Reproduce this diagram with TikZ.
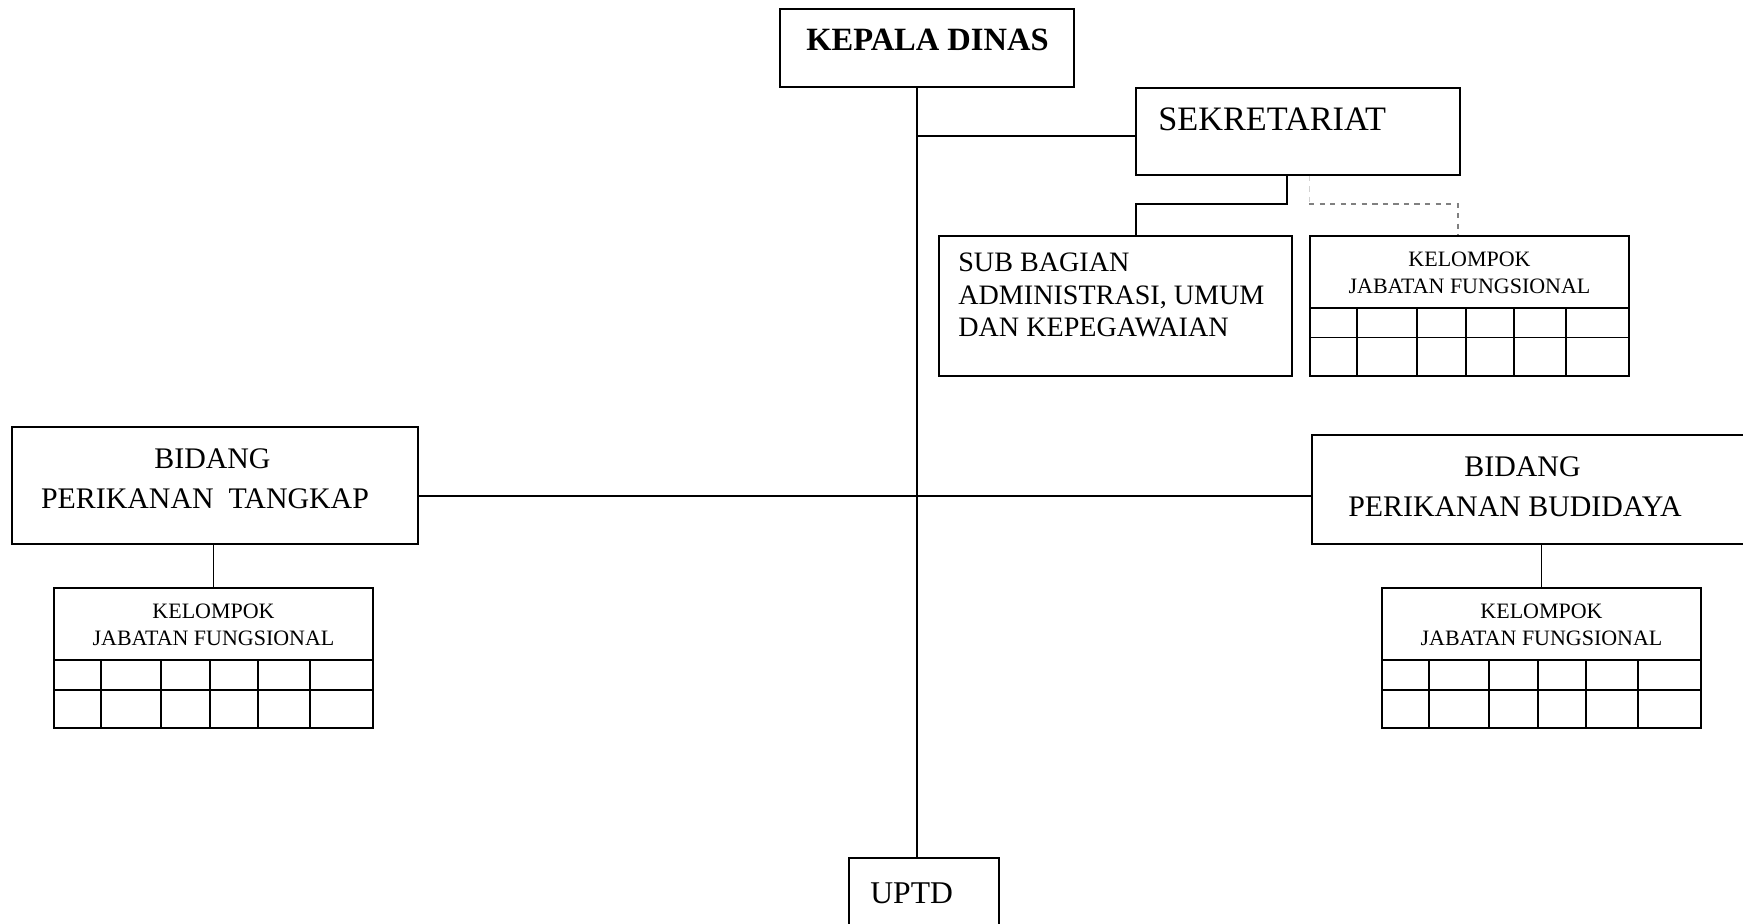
\documentclass[tikz,border=0pt]{standalone}
\usepackage{fontspec}
\setmainfont{Liberation Serif}
\usetikzlibrary{positioning,calc}

\tikzset{
  unit/.style={draw, line width=1pt, inner sep=0pt},
  kjf/.style={unit, minimum width=6.38cm, minimum height=2.8cm},
  link/.style={line width=1pt},
  headtext/.style={font=\fontsize{18.5}{21}\selectfont\bfseries, inner sep=0pt},
  bigtext/.style={font=\fontsize{18}{21}\selectfont, inner sep=0pt},
  bidangtext/.style={font=\fontsize{17}{22.5}\selectfont, align=center, inner sep=0pt},
  subtext/.style={font=\fontsize{16}{18.5}\selectfont, align=left, inner sep=0pt},
  kjftext/.style={font=\fontsize{12.5}{15.3}\selectfont, align=center, inner sep=0pt},
}

\begin{document}
\begin{tikzpicture}
  \useasboundingbox (0,0) rectangle (34.86,-18.48);
  \clip (0,0) rectangle (34.86,-18.48);

  % kepala dinas and sekretariat
  \node[unit, minimum width=5.88cm, minimum height=1.56cm] (kepala) at (18.54,-0.96) {};
  \node[headtext] (kepalatxt) at (18.55,-0.8) {KEPALA DINAS};
  \node[unit, minimum width=6.48cm, minimum height=1.74cm] (sekretariat) at (25.96,-2.63) {};
  \node[bigtext, anchor=west, font=\fontsize{19.5}{21}\selectfont] (sekretariattxt) at (23.16,-2.38) {SEKRETARIAT};

  \node[unit, minimum width=7.06cm, minimum height=2.8cm] (subbag) at (22.31,-6.12) {};
  \node[subtext, anchor=west] (subbagtxt) at (19.16,-5.9)
    {SUB BAGIAN\\ADMINISTRASI, UMUM\\DAN KEPEGAWAIAN};

  % bidang
  \node[unit, minimum width=8.12cm, minimum height=2.34cm] (tangkap) at (4.3,-9.71) {};
  \node[bidangtext] (tangkaptxt) at (4.1,-9.57) {\hspace*{0.3cm}BIDANG\\PERIKANAN \ TANGKAP};
  \node[unit, minimum width=8.76cm, minimum height=2.18cm] (budidaya) at (30.62,-9.79) {};
  \node[bidangtext] (budidayatxt) at (30.3,-9.74) {\hspace*{0.3cm}BIDANG\\PERIKANAN BUDIDAYA};

  % kelompok jabatan fungsional
  \node[kjf] (kjfsek) at (29.39,-6.12) {};
  \node[kjf] (kjftangkap) at (4.27,-13.16) {};
  \node[kjf] (kjfbudidaya) at (30.83,-13.16) {};
  \foreach \k in {kjfsek,kjftangkap,kjfbudidaya}{
    \draw[link] ($(\k.north west)+(0,-1.46)$) -- ($(\k.north east)+(0,-1.46)$);
    \draw[link] ($(\k.north west)+(0,-2.05)$) -- ($(\k.north east)+(0,-2.05)$);
    \foreach \c in {0.95,2.15,3.13,4.1,5.13}
      \draw[link] ($(\k.north west)+(\c,-1.46)$) -- ($(\k.south west)+(\c,0)$);
    \node[kjftext] (\k-txt) at ($(\k.north)+(0,-0.75)$) {KELOMPOK\\JABATAN FUNGSIONAL};
  }

  \node[unit, minimum width=3cm, minimum height=1.5cm] (uptd) at (18.48,-17.91) {};
  \node[bigtext, anchor=west] (uptdtxt) at (17.4,-17.86) {UPTD};

  % connectors
  \coordinate (hub) at (18.34,-9.92);
  \coordinate (sekjoin) at (18.34,-2.72);
  \draw[link] (hub |- kepala.south) -- (hub |- uptd.north);
  \draw[link] (sekjoin) -- (sekjoin -| sekretariat.west);
  \draw[link] ($(sekretariat.south)+(-0.22,0)$) -- ++(0,-0.56) -| ($(subbag.north)+(0.41,0)$);
  \draw[dashed, gray!35] ($(sekretariat.south)+(0.22,0)$) -- ++(0,-0.56);
  \draw[dashed, gray, line width=0.8pt] ($(sekretariat.south)+(0.22,-0.56)$) -| ($(kjfsek.north)+(-0.23,0)$);
  \draw[link] (tangkap.east |- hub) -- (hub) -- (budidaya.west |- hub);
  \draw[link] (kjftangkap.north |- tangkap.south) -- (kjftangkap.north);
  \draw[link] (kjfbudidaya.north |- budidaya.south) -- (kjfbudidaya.north);
\end{tikzpicture}
\end{document}
